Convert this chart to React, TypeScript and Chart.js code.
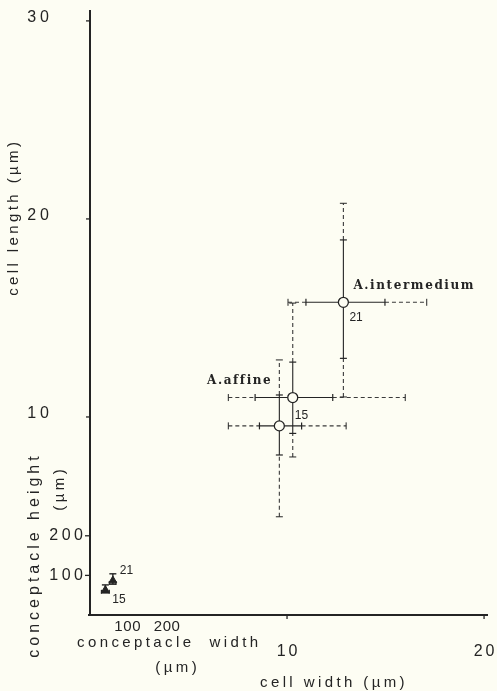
import React, { useEffect, useRef } from 'react';
import { Chart, registerables } from 'chart.js';

Chart.register(...registerables);

// ---- cell size data (µm) ----
const speciesNames = ['A.intermedium', 'A.affine', ''];
const sampleSizes = ['21', '15', ''];
const cellWidthMean = [12.86, 10.29, 9.61];
const cellWidthSdLow = [10.96, 8.38, 8.6];
const cellWidthSdHigh = [14.97, 12.32, 10.74];
const cellWidthMin = [10.05, 7.02, 7.02];
const cellWidthMax = [17.09, 16.0, 13.0];
const cellLengthMean = [15.79, 10.98, 9.55];
const cellLengthSdLow = [12.96, 9.17, 8.08];
const cellLengthSdHigh = [18.94, 12.77, 11.11];
const cellLengthMin = [11.01, 7.98, 4.96];
const cellLengthMax = [20.79, 15.75, 12.88];

// ---- conceptacle size data (µm) ----
const conceptacleN = ['21', '15'];
const conceptacleWidthMean = [58, 39];
const conceptacleWidthLow = [49, 29];
const conceptacleWidthHigh = [66, 49];
const conceptacleHeightMean = [87, 63];
const conceptacleHeightLow = [78, 56];
const conceptacleHeightHigh = [104, 76];

// ---- ticks ----
const cellTicksX = [10, 20];
const cellTicksY = [10, 20, 30];
const conceptacleTicks = [100, 200];
const CONC_TO_CELL = 0.02; // 100 µm conceptacle drawn as 2 units of the cell axes

const BG = '#fdfdf3';
const INK = '#242424';
const DASH_INK = '#3a3a3a';

function drawText(
  ctx: CanvasRenderingContext2D,
  s: string,
  x: number,
  y: number,
  font: string,
  align: 'left' | 'center' | 'right',
  spacing: number,
  rotate = false
) {
  ctx.save();
  ctx.font = font;
  (ctx as any).letterSpacing = spacing + 'px';
  ctx.fillStyle = INK;
  ctx.textBaseline = 'middle';
  ctx.textAlign = 'left';
  const w = ctx.measureText(s).width - spacing;
  let off = 0;
  if (align === 'center') off = -w / 2;
  if (align === 'right') off = -w;
  if (rotate) {
    ctx.translate(x, y);
    ctx.rotate(-Math.PI / 2);
    ctx.fillText(s, off, 0);
  } else {
    ctx.fillText(s, x + off, y);
  }
  ctx.restore();
}

function seg(ctx: CanvasRenderingContext2D, x1: number, y1: number, x2: number, y2: number, dashed: boolean, w = 1.1) {
  ctx.save();
  ctx.strokeStyle = dashed ? DASH_INK : INK;
  ctx.lineWidth = w;
  ctx.setLineDash(dashed ? [4, 3] : []);
  ctx.beginPath();
  ctx.moveTo(x1, y1);
  ctx.lineTo(x2, y2);
  ctx.stroke();
  ctx.restore();
}

const figurePlugin = {
  id: 'figure',
  beforeDraw(chart: any) {
    const ctx = chart.ctx as CanvasRenderingContext2D;
    ctx.save();
    ctx.fillStyle = BG;
    ctx.fillRect(0, 0, chart.width, chart.height);
    ctx.restore();
  },
  beforeDatasetsDraw(chart: any) {
    const ctx = chart.ctx as CanvasRenderingContext2D;
    const xs = chart.scales.x;
    const ys = chart.scales.y;
    const px = (v: number) => xs.getPixelForValue(v);
    const py = (v: number) => ys.getPixelForValue(v);
    const { left, right, top, bottom } = chart.chartArea;

    // axes
    seg(ctx, left, top, left, bottom, false, 2);
    seg(ctx, left - 2, bottom, right, bottom, false, 2);
    cellTicksY.forEach((t) => seg(ctx, left - 4, py(t), left, py(t), false, 1.3));
    cellTicksX.forEach((t) => seg(ctx, px(t), bottom, px(t), bottom + 4, false, 1.3));
    conceptacleTicks.forEach((t) => seg(ctx, left - 5, py(t * CONC_TO_CELL), left, py(t * CONC_TO_CELL), false, 1.3));

    const cap = 3.5;
    // cell error bars: solid = SD, dashed = range
    cellWidthMean.forEach((_, i) => {
      const y = py(cellLengthMean[i]);
      const x = px(cellWidthMean[i]);
      seg(ctx, px(cellWidthMin[i]), y, px(cellWidthSdLow[i]), y, true);
      seg(ctx, px(cellWidthSdHigh[i]), y, px(cellWidthMax[i]), y, true);
      seg(ctx, px(cellWidthSdLow[i]), y, px(cellWidthSdHigh[i]), y, false);
      [cellWidthMin[i], cellWidthMax[i]].forEach((v) => seg(ctx, px(v), y - cap, px(v), y + cap, false, 1));
      [cellWidthSdLow[i], cellWidthSdHigh[i]].forEach((v) => seg(ctx, px(v), y - cap, px(v), y + cap, false, 1.2));
      seg(ctx, x, py(cellLengthMin[i]), x, py(cellLengthSdLow[i]), true);
      seg(ctx, x, py(cellLengthSdHigh[i]), x, py(cellLengthMax[i]), true);
      seg(ctx, x, py(cellLengthSdLow[i]), x, py(cellLengthSdHigh[i]), false);
      [cellLengthMin[i], cellLengthMax[i]].forEach((v) => seg(ctx, x - cap, py(v), x + cap, py(v), false, 1));
      [cellLengthSdLow[i], cellLengthSdHigh[i]].forEach((v) => seg(ctx, x - cap, py(v), x + cap, py(v), false, 1.2));
    });

    // conceptacle error bars
    conceptacleWidthMean.forEach((_, i) => {
      const x = px(conceptacleWidthMean[i] * CONC_TO_CELL);
      const y = py(conceptacleHeightMean[i] * CONC_TO_CELL);
      const x1 = px(conceptacleWidthLow[i] * CONC_TO_CELL);
      const x2 = px(conceptacleWidthHigh[i] * CONC_TO_CELL);
      const y1 = py(conceptacleHeightLow[i] * CONC_TO_CELL);
      const y2 = py(conceptacleHeightHigh[i] * CONC_TO_CELL);
      seg(ctx, x1, y1, x2, y1, false, 1.6);
      seg(ctx, x, y1, x, y2, false, 1.4);
      seg(ctx, x - 3.5, y2, x + 3.5, y2, false, 1.4);
      seg(ctx, x1, y1 - 3, x1, y1 + 1, false, 1.2);
      seg(ctx, x2, y1 - 3, x2, y1 + 1, false, 1.2);
    });
  },
  afterDatasetsDraw(chart: any) {
    const ctx = chart.ctx as CanvasRenderingContext2D;
    const xs = chart.scales.x;
    const ys = chart.scales.y;
    const px = (v: number) => xs.getPixelForValue(v);
    const py = (v: number) => ys.getPixelForValue(v);
    const { left, bottom } = chart.chartArea;
    const tickFont = '16px "Liberation Sans", Arial, sans-serif';
    const titleFont = '15px "Liberation Sans", Arial, sans-serif';

    // y tick labels
    cellTicksY.forEach((t) => drawText(ctx, String(t), left - 41, py(t) - 3, tickFont, 'right', 4));
    conceptacleTicks.forEach((t) => drawText(ctx, String(t), left - 7, py(t * CONC_TO_CELL), tickFont, 'right', 3.5));
    // x tick labels
    cellTicksX.forEach((t) => drawText(ctx, String(t), px(t), bottom + 37, tickFont, 'center', 3));
    conceptacleTicks.forEach((t) =>
      drawText(ctx, String(t), px(t * CONC_TO_CELL) - 2, bottom + 12, '15px "Liberation Sans", Arial, sans-serif', 'center', 0.6)
    );

    // axis titles
    drawText(ctx, 'conceptacle  width', left - 13, bottom + 28, titleFont, 'left', 3.4);
    drawText(ctx, '(µm)', left + 86, bottom + 53, titleFont, 'center', 3.4);
    drawText(ctx, 'cell width (µm)', left + 170, bottom + 68, titleFont, 'left', 3.4);
    drawText(ctx, 'cell length (µm)', 14, py(20.0), titleFont, 'center', 3.4, true);
    drawText(ctx, 'conceptacle height', 35, 557, '16px "Liberation Sans", Arial, sans-serif', 'center', 4, true);
    drawText(ctx, '(µm)', 60, 490, titleFont, 'center', 3.4, true);

    // species / n labels
    const serif = 'bold 12px "DejaVu Serif", serif';
    const small = '12px "Liberation Sans", Arial, sans-serif';
    const labelOffsets = [
      { nx: 6, ny: 15, sx: 10, sy: -16, salign: 'left' as const },
      { nx: 2, ny: 18, sx: -22, sy: -17, salign: 'right' as const },
      { nx: 0, ny: 0, sx: 0, sy: 0, salign: 'left' as const },
    ];
    cellWidthMean.forEach((_, i) => {
      const x = px(cellWidthMean[i]);
      const y = py(cellLengthMean[i]);
      const o = labelOffsets[i];
      if (speciesNames[i]) drawText(ctx, speciesNames[i], x + o.sx, y + o.sy, serif, o.salign, 1.6);
      if (sampleSizes[i]) drawText(ctx, sampleSizes[i], x + o.nx, y + o.ny, small, 'left', 0);
    });
    const concOffsets = [
      { x: 7, y: -10 },
      { x: 7, y: 10 },
    ];
    conceptacleWidthMean.forEach((_, i) => {
      const x = px(conceptacleWidthMean[i] * CONC_TO_CELL);
      const y = py(conceptacleHeightMean[i] * CONC_TO_CELL);
      drawText(ctx, conceptacleN[i], x + concOffsets[i].x, y + concOffsets[i].y, small, 'left', 0);
    });
  },
};

export default function App() {
  const ref = useRef<HTMLCanvasElement>(null);
  useEffect(() => {
    if (!ref.current) return;
    const chart = new Chart(ref.current, {
      type: 'scatter',
      data: {
        datasets: [
          {
            label: 'cell',
            data: cellWidthMean.map((x, i) => ({ x, y: cellLengthMean[i] })),
            pointStyle: 'circle',
            pointRadius: 5,
            borderColor: INK,
            backgroundColor: BG,
            borderWidth: 1.3,
          },
          {
            label: 'conceptacle',
            data: conceptacleWidthMean.map((w, i) => ({
              x: w * CONC_TO_CELL,
              y: conceptacleHeightMean[i] * CONC_TO_CELL,
            })),
            pointStyle: 'triangle',
            pointRadius: 4.5,
            borderColor: INK,
            backgroundColor: INK,
            borderWidth: 1,
          },
        ],
      },
      options: {
        responsive: false,
        animation: false,
        devicePixelRatio: 1,
        layout: { padding: { left: 90, top: 10, right: 9, bottom: 76 } },
        scales: {
          x: { type: 'linear', min: 0, max: 20.2, display: false },
          y: { type: 'linear', min: 0, max: 30.55, display: false },
        },
        plugins: { legend: { display: false }, tooltip: { enabled: false } },
      } as any,
      plugins: [figurePlugin as any],
    });
    return () => chart.destroy();
  }, []);
  return (
    <div style={{ position: 'fixed', left: 0, top: 0, width: 497, height: 691, background: BG }}>
      <canvas ref={ref} width={497} height={691} style={{ display: 'block' }} />
    </div>
  );
}
